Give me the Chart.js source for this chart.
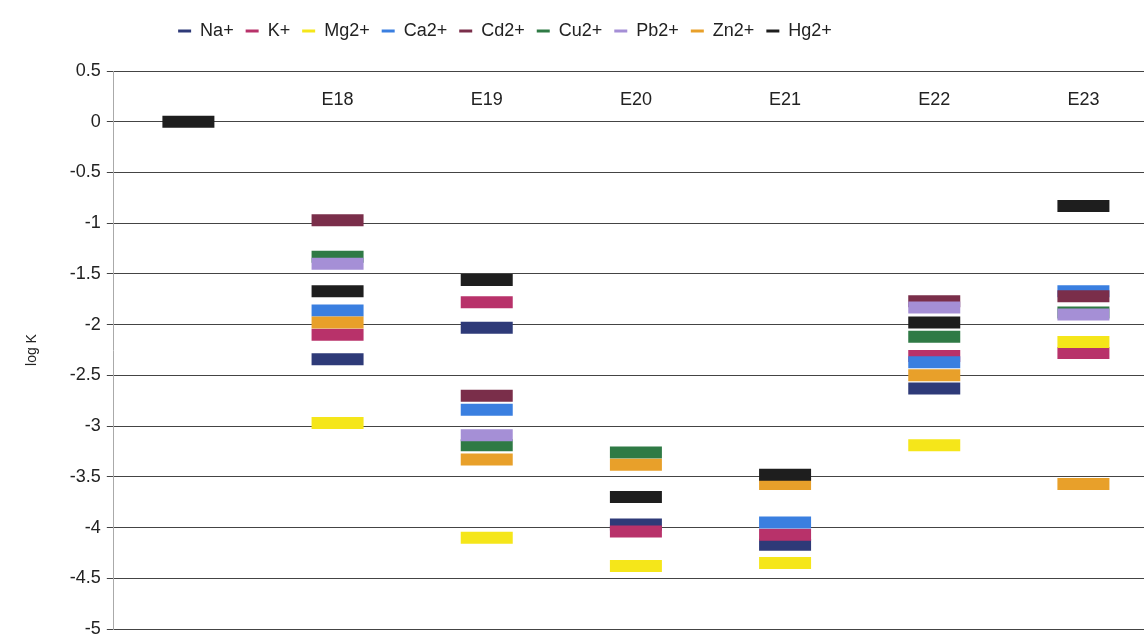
<!DOCTYPE html>
<html>
<head>
<meta charset="utf-8">
<script src="https://cdn.jsdelivr.net/npm/chart.js@4"></script>
<style>
  html, body { margin: 0; padding: 0; background: #fff; overflow: hidden; }
  #wrap { width: 1144px; height: 634px; overflow: hidden; position: relative; }
  #myChart { position: absolute; left: 0; top: 0; }
</style>
</head>
<body>
<!-- canvas is larger than the window: the plot runs off the right edge like the original -->
<div id="wrap"><canvas id="myChart" width="1196" height="667"></canvas></div>
<script>
// categories (first one has no label)
const categories = ['', 'E18', 'E19', 'E20', 'E21', 'E22', 'E23'];
const ion_names = ['Na+', 'K+', 'Mg2+', 'Ca2+', 'Cd2+', 'Cu2+', 'Pb2+', 'Zn2+', 'Hg2+'];

// log K per ion
const na_values = [null, -2.34, -2.03, -3.97, -4.17, -2.63, null];
const k_values  = [null, -2.10, -1.78, -4.04, -4.07, -2.31, -2.28];
const mg_values = [null, -2.97, -4.10, -4.38, -4.35, -3.19, -2.17];
const ca_values = [null, -1.86, -2.84, null, -3.95, -2.37, -1.67];
const cd_values = [null, -0.97, -2.70, null, null, -1.77, -1.72];
const cu_values = [null, -1.33, -3.19, -3.26, null, -2.12, -1.88];
const pb_values = [null, -1.40, -3.09, null, null, -1.83, -1.90];
const zn_values = [null, -1.98, -3.33, -3.38, -3.57, -2.50, -3.57];
const hg_values = [0, -1.67, -1.56, -3.70, -3.48, -1.98, -0.83];

const y_min = -5;
const y_max = 0.5;
const y_step = 0.5;

const series_values = [na_values, k_values, mg_values, ca_values, cd_values, cu_values, pb_values, zn_values, hg_values];
const ion_colors = ['#2e3a78', '#b8326a', '#f5e61a', '#3a7fe0', '#7a2e4a', '#2f7a45', '#a58fd6', '#e8a02a', '#1e1e1e'];

Chart.defaults.font.family = "'Liberation Sans', Arial, sans-serif";

const datasets = ion_names.map(function (name, i) {
  return {
    label: name,
    data: series_values[i],
    showLine: false,
    backgroundColor: ion_colors[i],
    borderColor: ion_colors[i],
    borderWidth: 0,
    pointStyle: 'line',
    pointRadius: 26,
    pointHoverRadius: 26,
    pointBorderWidth: 12,
    pointHoverBorderWidth: 12,
    pointBorderColor: ion_colors[i],
    order: ion_names.length - i   // later series on top, like excel
  };
});

// legend: more room under it, and moved left over the visible plot
const legendTweak = {
  id: 'legendTweak',
  afterInit: function (chart) {
    const fit = chart.legend.fit;
    chart.legend.fit = function () {
      fit.call(this);
      this.height += 21;
    };
  },
  afterLayout: function (chart) {
    chart.legend.left -= 105;
    chart.legend.right -= 105;
  }
};

const config = {
  type: 'line',
  data: { labels: categories, datasets: datasets },
  plugins: [legendTweak],
  options: {
    responsive: false,
    animation: false,
    layout: { padding: { top: 10, left: 24, right: 0, bottom: 4 } },
    plugins: {
      tooltip: { enabled: false },
      legend: {
        position: 'top',
        labels: {
          boxWidth: 13,
          boxHeight: 3,
          padding: 12,
          color: '#222',
          font: { size: 18 },
          sort: function (a, b) { return a.datasetIndex - b.datasetIndex; }
        }
      }
    },
    scales: {
      x: {
        type: 'category',
        offset: true,
        position: { y: 0.5 },
        grid: { display: false, drawTicks: false },
        border: { display: false },
        ticks: { color: '#222', font: { size: 18 }, padding: 18, maxRotation: 0, autoSkip: false }
      },
      y: {
        min: y_min,
        max: y_max,
        ticks: {
          stepSize: y_step,
          color: '#222',
          font: { size: 18 },
          padding: 6,
          callback: function (value) { return String(+value.toFixed(1)); }
        },
        grid: { color: '#444', lineWidth: 1, tickLength: 7 },
        border: { color: '#aaa' },
        title: { display: true, text: 'log K', color: '#222', font: { size: 14 }, padding: { top: 0, bottom: 23 } }
      }
    }
  }
};

const myChart = new Chart(document.getElementById('myChart'), config);
</script>
</body>
</html>
